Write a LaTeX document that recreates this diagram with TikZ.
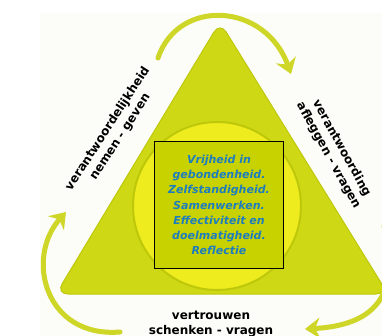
\documentclass[tikz,border=0pt]{standalone}
\usepackage{fontspec}
\setmainfont{DejaVu Sans}
\usetikzlibrary{arrows.meta}

\definecolor{paper}{RGB}{252,252,248}
\definecolor{trigreen}{RGB}{206,216,20}
\definecolor{tridark}{RGB}{190,200,10}
\definecolor{innerglow}{RGB}{238,236,30}
\definecolor{boxgreen}{RGB}{200,210,0}
\definecolor{textblue}{RGB}{30,125,190}
\definecolor{arrowgreen}{RGB}{206,214,40}

\tikzset{
  turn/.style={line width=5pt, draw=arrowgreen, line cap=round, -{Stealth[length=15pt,width=21pt,inset=5pt]}},
  duty/.style={font=\fontsize{12}{15}\selectfont\bfseries, align=center, text=black, inner sep=0pt},
  core/.style={draw=black, line width=1.5pt, fill=boxgreen, minimum width=129pt, minimum height=127pt,
    align=center, text=textblue, font=\fontsize{11}{15.2}\selectfont\bfseries\itshape, inner sep=0pt}
}

\begin{document}
\begin{tikzpicture}[x=1pt, y=-1pt]
    \useasboundingbox (0,0) rectangle (382,336);
    \fill[paper] (40,13) rectangle (382,336);
    \fill[trigreen, draw=tridark, line width=1pt, rounded corners=12pt] (220,22) -- (388,294) -- (56,294) -- cycle;
    \fill[innerglow, draw=tridark, line width=2pt] (217,206) circle (84);
    \node[core] (kern) at (219,205) {Vrijheid in\\gebondenheid.\\Zelfstandigheid.\\Samenwerken.\\Effectiviteit en\\doelmatigheid.\\Reflectie};
    \node[duty, rotate=57] (leftduty) at (114,133) {verantwoordelijkheid\\nemen - geven};
    \node[duty, rotate=-61] (rightduty) at (335,152) {verantwoording\\afleggen - vragen};
    \node[duty] (baseduty) at (211,324) {vertrouwen\\schenken - vragen};
    \coordinate (topstart) at (158,58);
    \coordinate (topend) at (291,74);
    \coordinate (leftstart) at (120,332);
    \coordinate (leftend) at (66,212);
    \coordinate (rightstart) at (384,226);
    \coordinate (rightend) at (305,329);
    \draw[turn] (topstart) .. controls (178,-2) and (265,2) .. (topend);
    \draw[turn] (leftstart) .. controls (45,338) and (25,258) .. (leftend);
    \draw[turn] (rightstart) .. controls (400,290) and (380,325) .. (rightend);
\end{tikzpicture}
\end{document}
